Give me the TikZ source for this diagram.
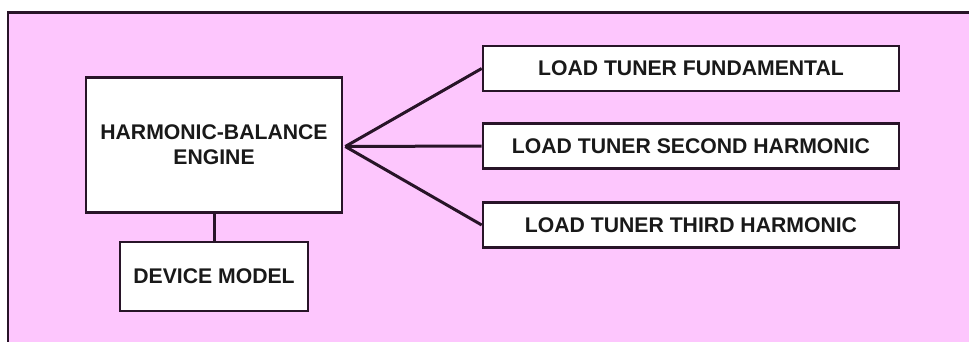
\documentclass[tikz,border=0pt]{standalone}
\usepackage{fontspec}
\setmainfont{Liberation Sans}
\definecolor{bgpink}{RGB}{253,198,253}
\definecolor{edge}{RGB}{40,20,40}
\definecolor{txt}{RGB}{25,25,25}
\begin{document}
\begin{tikzpicture}[x=1pt,y=-1pt,
  blk/.style={draw=edge,line width=2.6pt,fill=white,inner sep=0pt,align=center,
    font=\fontsize{21.2}{25}\selectfont\bfseries,text=txt},
  conn/.style={draw=edge,line width=3pt}]
\useasboundingbox (0,0) rectangle (969,341);
\clip (0,0) rectangle (969,341);
\draw[fill=bgpink,draw=edge,line width=2.2pt] (8,12.5) rectangle (990,360);
\node[blk,minimum width=256pt,minimum height=135pt] (HB) at (214,145) {HARMONIC-BALANCE\\ENGINE};
\node[blk,minimum width=188pt,minimum height=69pt] (DM) at (214,276.5) {DEVICE MODEL};
\node[blk,minimum width=416pt,minimum height=45pt] (L1) at (691,68.5) {LOAD TUNER FUNDAMENTAL};
\node[blk,minimum width=416pt,minimum height=45pt] (L2) at (691,146) {LOAD TUNER SECOND HARMONIC};
\node[blk,minimum width=416pt,minimum height=45pt] (L3) at (691,225) {LOAD TUNER THIRD HARMONIC};
\coordinate (fan) at ([xshift=2pt,yshift=-1.5pt]HB.east);
\draw[conn] (fan) -- (L1.west);
\draw[conn] (fan) -- (L2.west);
\draw[conn] (fan) -- (L3.west);
\draw[conn] (HB.south) -- (DM.north);
\end{tikzpicture}
\end{document}
